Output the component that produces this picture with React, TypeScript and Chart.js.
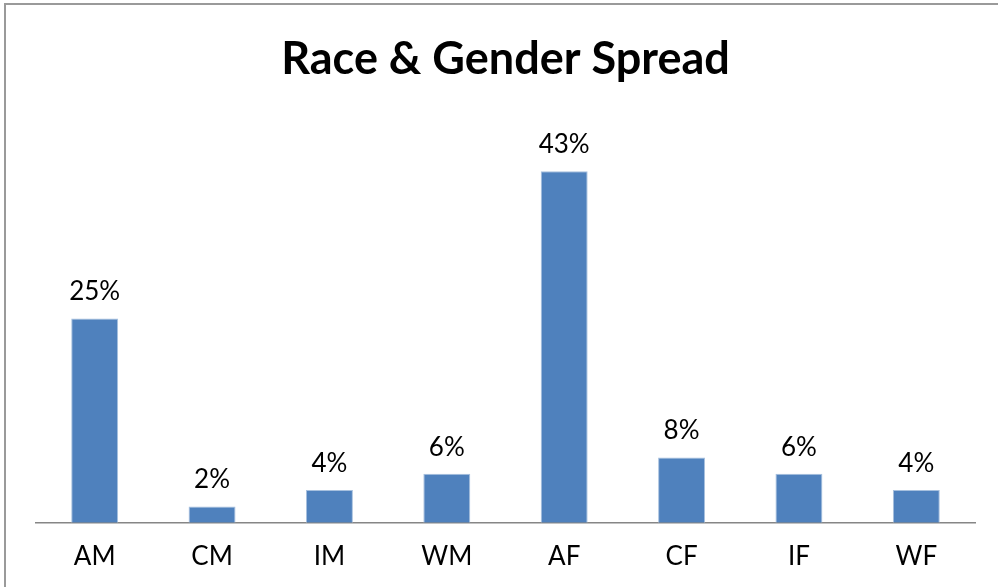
import React, { useEffect, useRef } from "react";
import { Chart, registerables } from "chart.js";

Chart.register(...registerables);

const categories = ["AM", "CM", "IM", "WM", "AF", "CF", "IF", "WF"];
const percentages = [25, 2, 4, 6, 43, 8, 6, 4];
const titleText = "Race & Gender Spread";

const FONT = "Lato, 'Open Sans', sans-serif";

const valueLabels = {
  id: "valueLabels",
  afterDatasetsDraw(chart: any) {
    const ctx = chart.ctx;
    const meta = chart.getDatasetMeta(0);
    ctx.save();
    ctx.font = `26px ${FONT}`;
    ctx.fillStyle = "#000";
    ctx.textAlign = "center";
    ctx.textBaseline = "alphabetic";
    meta.data.forEach((bar: any, i: number) => {
      ctx.fillText(percentages[i] + "%", bar.x, bar.y - 18);
    });
    ctx.restore();
  },
};

export default function App() {
  const ref = useRef<HTMLCanvasElement>(null);
  useEffect(() => {
    if (!ref.current) return;
    const chart = new Chart(ref.current, {
      type: "bar",
      data: {
        labels: categories,
        datasets: [
          {
            data: percentages,
            backgroundColor: "#4F81BD",
            borderColor: "#A7C0DE",
            borderWidth: 1,
            barPercentage: 0.4,
            categoryPercentage: 1,
          },
        ],
      },
      options: {
        animation: false,
        responsive: false,
        maintainAspectRatio: false,
        layout: { padding: { top: 32, left: 36, right: 23, bottom: 5 } },
        plugins: {
          legend: { display: false },
          tooltip: { enabled: false },
          title: {
            display: true,
            text: titleText,
            color: "#000",
            font: { family: FONT, size: 45, weight: "bold" },
            padding: { top: 0, bottom: 28 },
          },
        },
        scales: {
          x: {
            grid: { display: false },
            border: { display: true, color: "#868686", width: 1.5 },
            ticks: {
              color: "#000",
              font: { family: FONT, size: 26 },
              padding: 10,
            },
          },
          y: {
            display: false,
            min: 0,
            max: 50,
          },
        },
      },
      plugins: [valueLabels],
    });
    return () => chart.destroy();
  }, []);
  return (
    <div style={{ position: "fixed", left: 0, top: 0, width: 998, height: 587, background: "#fff", overflow: "hidden" }}>
      <div
        style={{
          position: "absolute",
          left: 4,
          top: 3,
          width: 1100,
          height: 700,
          borderTop: "2px solid #9a9a9a",
          borderLeft: "2px solid #9a9a9a",
        }}
      />
      <canvas ref={ref} width={998} height={587} style={{ position: "absolute", left: 0, top: 0 }} />
    </div>
  );
}
